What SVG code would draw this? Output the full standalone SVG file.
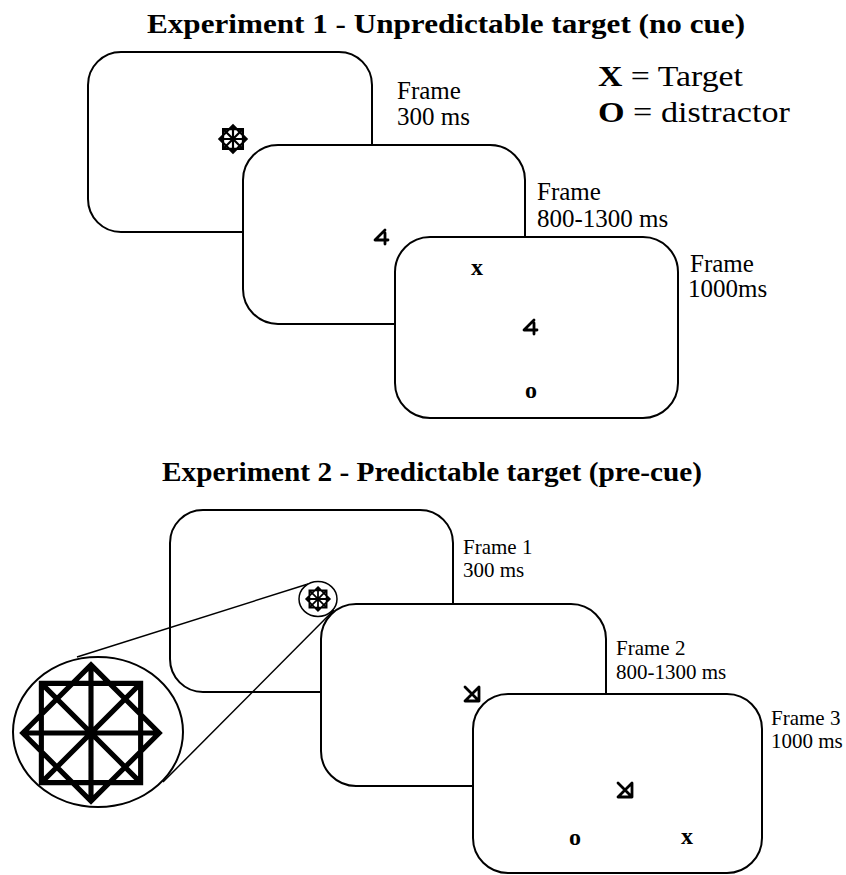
<svg xmlns="http://www.w3.org/2000/svg" xmlns:xlink="http://www.w3.org/1999/xlink" width="846" height="875" viewBox="0 0 846 875">
<style>
  .frame { fill: #fff; stroke: #000; stroke-width: 2; }
  .title { font-family: "Liberation Serif", serif; font-weight: bold; font-size: 27px; fill: #000; }
  .lab1 { font-family: "Liberation Serif", serif; font-size: 25px; fill: #000; }
  .lab2 { font-family: "Liberation Serif", serif; font-size: 21px; fill: #000; }
  .legend { font-family: "Liberation Serif", serif; font-size: 30px; fill: #000; }
  .stim { font-family: "Liberation Serif", serif; font-weight: bold; font-size: 24px; fill: #000; text-anchor: middle; }
  .sym { fill: none; stroke: #000; stroke-width: 2.8; stroke-linecap: round; stroke-linejoin: round; }
  .zoomline { fill: none; stroke: #000; stroke-width: 1.5; }
</style>
<defs>
  <symbol id="star" viewBox="-1.1 -1.1 2.2 2.2" overflow="visible">
    <path d="M0,-1 L1,0 L0,1 L-1,0 Z M-0.728,-0.728 H0.728 V0.728 H-0.728 Z M-1,0 H1 M0,-1 V1 M-0.728,-0.728 L0.728,0.728 M0.728,-0.728 L-0.728,0.728" fill="none" stroke="#000" stroke-linejoin="miter"/>
  </symbol>
  <path id="four" d="M4,-7 L-6,3 H7 M4,-4 V7"/>
  <path id="tri" d="M7,-7 V7 H-7 Z M-7,-7 L7,7"/>
</defs>

<text class="title" x="147" y="33" textLength="598" lengthAdjust="spacingAndGlyphs">Experiment 1 - Unpredictable target (no cue)</text>

<g id="legend">
  <text class="legend" x="598" y="86" textLength="145" lengthAdjust="spacingAndGlyphs"><tspan font-weight="bold">X</tspan> = Target</text>
  <text class="legend" x="598" y="122" textLength="192" lengthAdjust="spacingAndGlyphs"><tspan font-weight="bold">O</tspan> = distractor</text>
</g>

<g id="exp1-frame1">
  <rect class="frame" x="88" y="52" width="284" height="180" rx="33" ry="33"/>
  <use href="#star" x="218" y="124" width="30" height="30" stroke-width="0.16"/>
  <text class="lab1" x="397" y="99">Frame</text>
  <text class="lab1" x="397" y="125">300 ms</text>
</g>

<g id="exp1-frame2">
  <rect class="frame" x="243" y="145" width="282" height="179" rx="35" ry="35"/>
  <use href="#four" class="sym" transform="translate(381,237)"/>
  <text class="lab1" x="537" y="200">Frame</text>
  <text class="lab1" x="537" y="227">800-1300 ms</text>
</g>

<g id="exp1-frame3">
  <rect class="frame" x="395" y="237" width="283" height="181" rx="35" ry="35"/>
  <text class="stim" x="477" y="275">x</text>
  <use href="#four" class="sym" transform="translate(530,327)"/>
  <text class="stim" x="531" y="398">o</text>
  <text class="lab1" x="690" y="272">Frame</text>
  <text class="lab1" x="688" y="297">1000ms</text>
</g>

<text class="title" x="162" y="481" textLength="540" lengthAdjust="spacingAndGlyphs">Experiment 2 - Predictable target (pre-cue)</text>

<g id="exp2-frame1">
  <rect class="frame" x="170" y="510" width="283" height="182" rx="33" ry="33"/>
  <text class="lab2" x="463" y="554">Frame 1</text>
  <text class="lab2" x="463" y="577">300 ms</text>
</g>

<g id="exp2-frame2">
  <rect class="frame" x="321" y="604" width="285" height="182" rx="35" ry="35"/>
  <use href="#tri" class="sym" transform="translate(472,694)"/>
  <text class="lab2" x="616" y="655">Frame 2</text>
  <text class="lab2" x="616" y="679">800-1300 ms</text>
</g>

<g id="exp2-frame3">
  <rect class="frame" x="473" y="694" width="289" height="179" rx="35" ry="35"/>
  <use href="#tri" class="sym" transform="translate(625,790)"/>
  <text class="stim" x="575" y="845">o</text>
  <text class="stim" x="687" y="844">x</text>
  <text class="lab2" x="771" y="725">Frame 3</text>
  <text class="lab2" x="771" y="748">1000 ms</text>
</g>

<g id="connectors">
  <line class="zoomline" x1="308" y1="584" x2="77" y2="657"/>
  <line class="zoomline" x1="334" y1="610" x2="163" y2="782"/>
</g>

<g id="cue-small">
  <ellipse cx="318" cy="599" rx="19" ry="17.5" fill="#fff" stroke="#000" stroke-width="1.5"/>
  <use href="#star" x="305" y="586" width="26" height="26" stroke-width="0.15"/>
</g>

<g id="cue-magnified">
  <ellipse cx="98" cy="732" rx="85" ry="75" fill="#fff" stroke="#000" stroke-width="2"/>
  <use href="#star" x="16" y="658" width="150" height="150" stroke-width="0.075"/>
</g>
</svg>
